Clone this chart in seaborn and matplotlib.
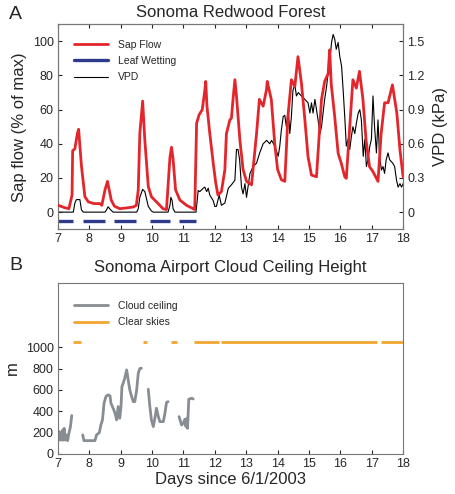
import numpy as np
import pandas as pd
import matplotlib
matplotlib.use("Agg")
import matplotlib.pyplot as plt
from matplotlib.lines import Line2D
import seaborn as sns

# ---- Panel A: sap flow (% of max) ----
sap_day = [7.0, 7.2, 7.35, 7.45, 7.47, 7.54, 7.62, 7.66, 7.75, 7.86, 7.97, 8.15, 8.34, 8.4,
           8.5, 8.58, 8.7, 8.8, 8.97, 9.2, 9.4, 9.5, 9.56, 9.61, 9.70, 9.77, 9.88, 9.98, 10.14,
           10.35, 10.46, 10.57, 10.62, 10.67, 10.75, 10.89, 11.1, 11.31, 11.36, 11.42, 11.5,
           11.6, 11.68, 11.71, 11.75, 11.84, 11.95, 12.03, 12.1, 12.21, 12.32, 12.37, 12.48,
           12.53, 12.58, 12.64, 12.69, 12.8, 12.9, 13.01, 13.17, 13.33, 13.42, 13.54, 13.65,
           13.67, 13.8, 13.91, 14.0, 14.12, 14.23, 14.33, 14.44, 14.55, 14.65, 14.76, 14.87,
           14.97, 15.08, 15.24, 15.4, 15.5, 15.61, 15.66, 15.71, 15.82, 15.93, 16.03, 16.14,
           16.19, 16.3, 16.4, 16.51, 16.61, 16.72, 16.82, 16.93, 17.04, 17.2, 17.3, 17.41,
           17.52, 17.66, 17.8, 17.9, 18.0]
sap_val = [4.1, 2.7, 2.0, 10, 36, 37, 46, 48.5, 27, 9, 6, 5, 5, 4,
           13, 18, 7, 3.5, 2, 2.5, 3, 4, 13, 46, 65, 42, 15, 9, 6,
           2, 1.5, 32, 38, 31, 13, 7, 4, 2, 1.5, 52, 57,
           60, 71, 76.5, 62, 46, 28.6, 17, 10, 12, 24.7, 46, 54,
           55, 66, 77.5, 68, 42, 25, 18, 16, 46, 66, 62, 72,
           76.5, 66, 40, 25, 19, 18, 56, 77.5, 73.6, 91, 75.5, 54,
           32.5, 21.7, 20.7, 66, 76.5, 81, 95, 75, 56, 34.4, 28.6, 20.7,
           19.8, 50, 77.5, 72.6, 82.4, 66, 42, 26.6, 23.7, 18, 46, 64,
           64, 74.5, 58, 36.4, 20.7]

# ---- Panel A: VPD (kPa) ----
vpd_day = [7.0, 7.49, 7.54, 7.59, 7.70, 7.75, 7.81, 8.50, 8.55, 8.60, 8.68, 8.76, 9.51, 9.56,
           9.61, 9.70, 9.77, 9.88, 9.98, 10.04, 10.51, 10.57, 10.60, 10.64, 10.67, 10.73, 11.40,
           11.47, 11.52, 11.63, 11.68, 11.74, 11.79, 11.84, 11.95, 12.0, 12.05, 12.14, 12.21,
           12.32, 12.43, 12.53, 12.64, 12.69, 12.74, 12.79, 12.85, 12.9, 12.96, 13.01, 13.12,
           13.17, 13.22, 13.33, 13.43, 13.54, 13.65, 13.75, 13.81, 13.91, 14.02, 14.07, 14.12,
           14.18, 14.23, 14.28, 14.34, 14.39, 14.44, 14.49, 14.55, 14.60, 14.66, 14.76, 14.87,
           14.97, 15.03, 15.08, 15.13, 15.19, 15.24, 15.29, 15.35, 15.40, 15.45, 15.50, 15.56,
           15.61, 15.66, 15.72, 15.77, 15.82, 15.87, 15.93, 15.98, 16.04, 16.09, 16.14, 16.19,
           16.25, 16.30, 16.35, 16.40, 16.46, 16.51, 16.57, 16.62, 16.67, 16.73, 16.78, 16.83,
           16.88, 16.94, 16.99, 17.04, 17.09, 17.15, 17.20, 17.25, 17.31, 17.36, 17.41, 17.46,
           17.52, 17.57, 17.67, 17.73, 17.79, 17.84, 17.90, 17.95, 18.0]
vpd_val = [0, 0, 0.08, 0.11, 0.11, 0.02, 0, 0, 0.02, 0.047, 0.02, 0, 0, 0.03,
           0.13, 0.20, 0.18, 0.05, 0.01, 0, 0, 0.06, 0.13, 0.10, 0.03, 0, 0,
           0.19, 0.18, 0.21, 0.22, 0.18, 0.21, 0.15, 0.10, 0.05, 0.05, 0.15, 0.06,
           0.08, 0.21, 0.24, 0.28, 0.55, 0.55, 0.46, 0.22, 0.16, 0.25, 0.13, 0.34,
           0.37, 0.40, 0.43, 0.52, 0.60, 0.63, 0.60, 0.63, 0.58, 0.49, 0.58, 0.72,
           0.84, 0.85, 0.75, 0.90, 0.69, 0.84, 1.07, 1.12, 1.02, 1.05, 1.02, 0.99,
           0.96, 0.87, 0.96, 0.87, 0.99, 0.90, 0.81, 0.69, 0.75, 0.87, 0.99, 1.10,
           1.22, 1.31, 1.49, 1.56, 1.52, 1.43, 1.49, 1.37, 1.28, 1.07, 0.84, 0.58,
           0.64, 0.55, 0.66, 0.75, 0.69, 0.78, 0.87, 0.90, 0.81, 0.49, 0.64, 0.40,
           0.46, 0.58, 0.64, 1.02, 0.75, 0.52, 0.81, 0.49, 0.37, 0.40, 0.34, 0.46,
           0.52, 0.46, 0.43, 0.40, 0.28, 0.22, 0.25, 0.22, 0.25]

# leaf wetting periods (drawn at -5 %)
wet_start = [7.0, 7.80, 8.80, 9.93, 10.86]
wet_end = [7.48, 8.50, 9.48, 10.57, 11.39]

# ---- Panel B: cloud ceiling (m), segments separated by gaps ----
cloud_seg = [1] * 14 + [2] * 31 + [3] * 12 + [4] * 10
cloud_day = [7.0, 7.04, 7.06, 7.10, 7.13, 7.15, 7.17, 7.20, 7.23, 7.28, 7.31, 7.35, 7.40, 7.44,
             7.79, 7.83, 8.18, 8.23, 8.32, 8.37, 8.42, 8.47, 8.53, 8.60, 8.66, 8.69, 8.76, 8.82,
             8.87, 8.92, 8.97, 9.01, 9.04, 9.08, 9.13, 9.19, 9.24, 9.29, 9.35, 9.40, 9.45, 9.51,
             9.56, 9.61, 9.66,
             9.88, 9.93, 9.98, 10.04, 10.09, 10.14, 10.20, 10.25, 10.36, 10.41, 10.46, 10.51,
             10.86, 10.94, 10.99, 11.05, 11.08, 11.10, 11.13, 11.17, 11.26, 11.31]
cloud_m = [162, 210, 130, 200, 130, 225, 130, 240, 130, 178, 125, 194, 256, 360,
           178, 125, 125, 178, 200, 272, 319, 475, 538, 553, 545, 475, 428, 381,
           319, 444, 334, 440, 631, 662, 709, 787, 694, 600, 538, 490, 490, 600,
           756, 800, 803,
           606, 444, 319, 256, 334, 428, 350, 303, 303, 381, 481, 490,
           350, 272, 287, 325, 256, 330, 240, 512, 522, 515]

# clear sky periods (drawn at 1050 m)
clear_start = [7.47, 9.72, 10.59, 11.34, 12.21, 17.28]
clear_end = [7.75, 9.83, 10.78, 12.14, 17.18, 18.0]

RED = "#e2262b"
BLUE = "#2e3a8c"
GRAY = "#878d93"
ORANGE = "#f0a630"

sns.set_style("ticks")
plt.rcParams["font.family"] = ["Liberation Sans", "DejaVu Sans"]
plt.rcParams["axes.edgecolor"] = "#777777"
plt.rcParams["axes.linewidth"] = 0.8

fig = plt.figure(figsize=(4.56, 4.94), dpi=100)
ax1 = fig.add_axes([0.127, 0.536, 0.757, 0.415])
ax2 = fig.add_axes([0.127, 0.081, 0.757, 0.346])

sap = pd.DataFrame({"day": sap_day, "sap": sap_val})
vpd = pd.DataFrame({"day": vpd_day, "vpd": vpd_val})
cloud = pd.DataFrame({"day": cloud_day, "m": cloud_m, "seg": cloud_seg})

# panel A
ax1r = ax1.twinx()
sns.lineplot(data=vpd, x="day", y="vpd", ax=ax1r, color="black", linewidth=0.8,
             estimator=None, sort=False)
ax1.hlines([-5] * len(wet_start), wet_start, wet_end, color=BLUE, linewidth=2.4)
sns.lineplot(data=sap, x="day", y="sap", ax=ax1, color=RED, linewidth=2.0,
             estimator=None, sort=False, zorder=3)
ax1.set_zorder(ax1r.get_zorder() + 1)
ax1.patch.set_visible(False)

ax1.set_xlim(7, 18)
ax1.set_ylim(-10, 110)
ax1r.set_ylim(-0.15, 1.65)
ax1.set_xticks(range(7, 19))
ax1.set_yticks([0, 20, 40, 60, 80, 100])
ax1r.set_yticks([0, 0.3, 0.6, 0.9, 1.2, 1.5])
ax1r.set_yticklabels(["0", "0.3", "0.6", "0.9", "1.2", "1.5"])
ax1.set_xlabel("")
ax1.set_ylabel("Sap flow (% of max)", fontsize=12, labelpad=4)
ax1r.set_ylabel("VPD (kPa)", fontsize=12, labelpad=6)
ax1.set_title("Sonoma Redwood Forest", fontsize=12, pad=5)
ax1.tick_params(direction="in", length=3, labelsize=9, top=True, pad=3)
ax1r.tick_params(direction="in", length=3, labelsize=9, pad=3)
for sp in ax1r.spines.values():
    sp.set_color("#777777")

handles_a = [Line2D([], [], color=RED, lw=2.0), Line2D([], [], color=BLUE, lw=2.4),
             Line2D([], [], color="black", lw=0.8)]
ax1.legend(handles_a, ["Sap Flow", "Leaf Wetting", "VPD"], loc="upper left",
           frameon=False, fontsize=7.5, handlelength=3.2, handletextpad=1.0,
           labelspacing=0.6, bbox_to_anchor=(0.02, 0.97))

# panel B
sns.lineplot(data=cloud, x="day", y="m", units="seg", ax=ax2, color=GRAY, linewidth=2.0,
             estimator=None, sort=False)
ax2.hlines([1050] * len(clear_start), clear_start, clear_end, color=ORANGE, linewidth=2.0)
ax2.set_xlim(7, 18)
ax2.set_ylim(0, 1600)
ax2.set_xticks(range(7, 19))
ax2.set_yticks([0, 200, 400, 600, 800, 1000])
ax2.set_xlabel("Days since 6/1/2003", fontsize=12, labelpad=1)
ax2.set_ylabel("m", fontsize=12, labelpad=4)
ax2.set_title("Sonoma Airport Cloud Ceiling Height", fontsize=12, pad=8)
ax2.tick_params(direction="in", length=3, labelsize=9, pad=3)

handles_b = [Line2D([], [], color=GRAY, lw=2.0), Line2D([], [], color=ORANGE, lw=2.0)]
ax2.legend(handles_b, ["Cloud ceiling", "Clear skies"], loc="upper left",
           frameon=False, fontsize=7.5, handlelength=3.2, handletextpad=1.0,
           labelspacing=0.6, bbox_to_anchor=(0.02, 0.95))

fig.text(0.02, 0.97, "A", fontsize=14, ha="left", va="center")
fig.text(0.02, 0.463, "B", fontsize=14, ha="left", va="center")

fig.savefig("out.png", dpi=100)
